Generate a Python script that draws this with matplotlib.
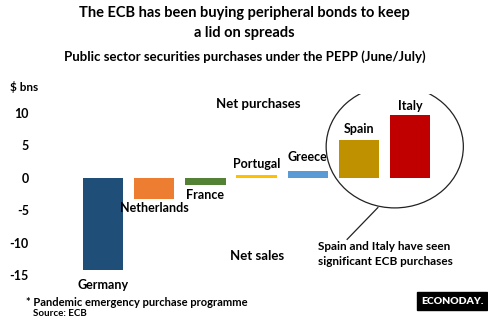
import matplotlib
matplotlib.use("Agg")
import matplotlib.pyplot as plt
from matplotlib.patches import Ellipse

plt.rcParams['font.family'] = ['Lato', 'DejaVu Sans']

countries = ["Germany", "Netherlands", "France", "Portugal", "Greece", "Spain", "Italy"]
values = [-14.3, -3.3, -1.1, 0.5, 1.1, 5.9, 9.7]
colors = ["#1F4E79", "#ED7D31", "#548235", "#FFC000", "#5B9BD5", "#BF9000", "#C00000"]
yticks = [10, 5, 0, -5, -10, -15]

W, H = 489, 323
fig = plt.figure(figsize=(W / 100, H / 100), dpi=100)

def fx(x):
    return x / W

def fy(y):
    return 1 - y / H

ax_left, ax_right, ax_top, ax_bot = 40, 470, 93.5, 275
ax = fig.add_axes([fx(ax_left), fy(ax_bot), fx(ax_right - ax_left), (ax_bot - ax_top) / H])
xs = list(range(len(countries)))
ax.bar(xs, values, width=0.79, color=colors)
ax.set_xlim(-1.23, 7.17)
ax.set_ylim(-15, 13)
ax.set_yticks(yticks)
ax.set_yticklabels([str(t) for t in yticks], fontsize=9, fontweight='bold')
ax.tick_params(axis='y', length=0, pad=8)
ax.set_xticks([])
for s in ax.spines.values():
    s.set_visible(False)

# bar labels
lab_style = dict(fontsize=9, fontweight='bold', ha='center', va='center')
offsets = {
    "Germany": -2.2,
    "Netherlands": -1.3,
    "France": -1.5,
    "Portugal": 1.6,
    "Greece": 2.1,
    "Spain": 1.6,
    "Italy": 1.4,
}
for x, c, v in zip(xs, countries, values):
    y = v + offsets[c]
    if c == "France":
        y = -2.6
    ax.text(x, y, c, **lab_style)

# ellipse and pointer line
ax.add_patch(Ellipse((5.70, 4.8), 2.68, 18.9, fill=False, ec="#222222", lw=0.9))
ax.plot([5.37, 4.77], [-4.6, -9.5], color="#222222", lw=0.9)

# titles
fig.text(0.5, fy(13), "The ECB has been buying peripheral bonds to keep", ha='center', va='center',
         fontsize=10.5, fontweight='bold')
fig.text(0.5, fy(33), "a lid on spreads", ha='center', va='center', fontsize=10.5, fontweight='bold')
fig.text(0.5, fy(57), "Public sector securities purchases under the PEPP (June/July)", ha='center', va='center',
         fontsize=9.5, fontweight='bold')

fig.text(fx(10), fy(87), "$ bns", ha='left', va='center', fontsize=8.5, fontweight='bold')
fig.text(fx(216), fy(104), "Net purchases", ha='left', va='center', fontsize=9.5, fontweight='bold')
fig.text(fx(230), fy(256), "Net sales", ha='left', va='center', fontsize=9.5, fontweight='bold')
fig.text(fx(318), fy(254), "Spain and Italy have seen\nsignificant ECB purchases", ha='left', va='center',
         fontsize=8.5, fontweight='bold', linespacing=1.4)

fig.text(fx(26), fy(302), "* Pandemic emergency purchase programme", ha='left', va='center',
         fontsize=8, fontweight='bold')
fig.text(fx(33), fy(313), "Source: ECB", ha='left', va='center', fontsize=7, fontweight='bold')

fig.text(fx(452), fy(301), "ECONODAY.", ha='center', va='center', fontsize=7.5, fontweight='heavy',
         color='white', bbox=dict(boxstyle='square,pad=0.4', fc='black', ec='black'))

fig.savefig("out.png", dpi=100)
